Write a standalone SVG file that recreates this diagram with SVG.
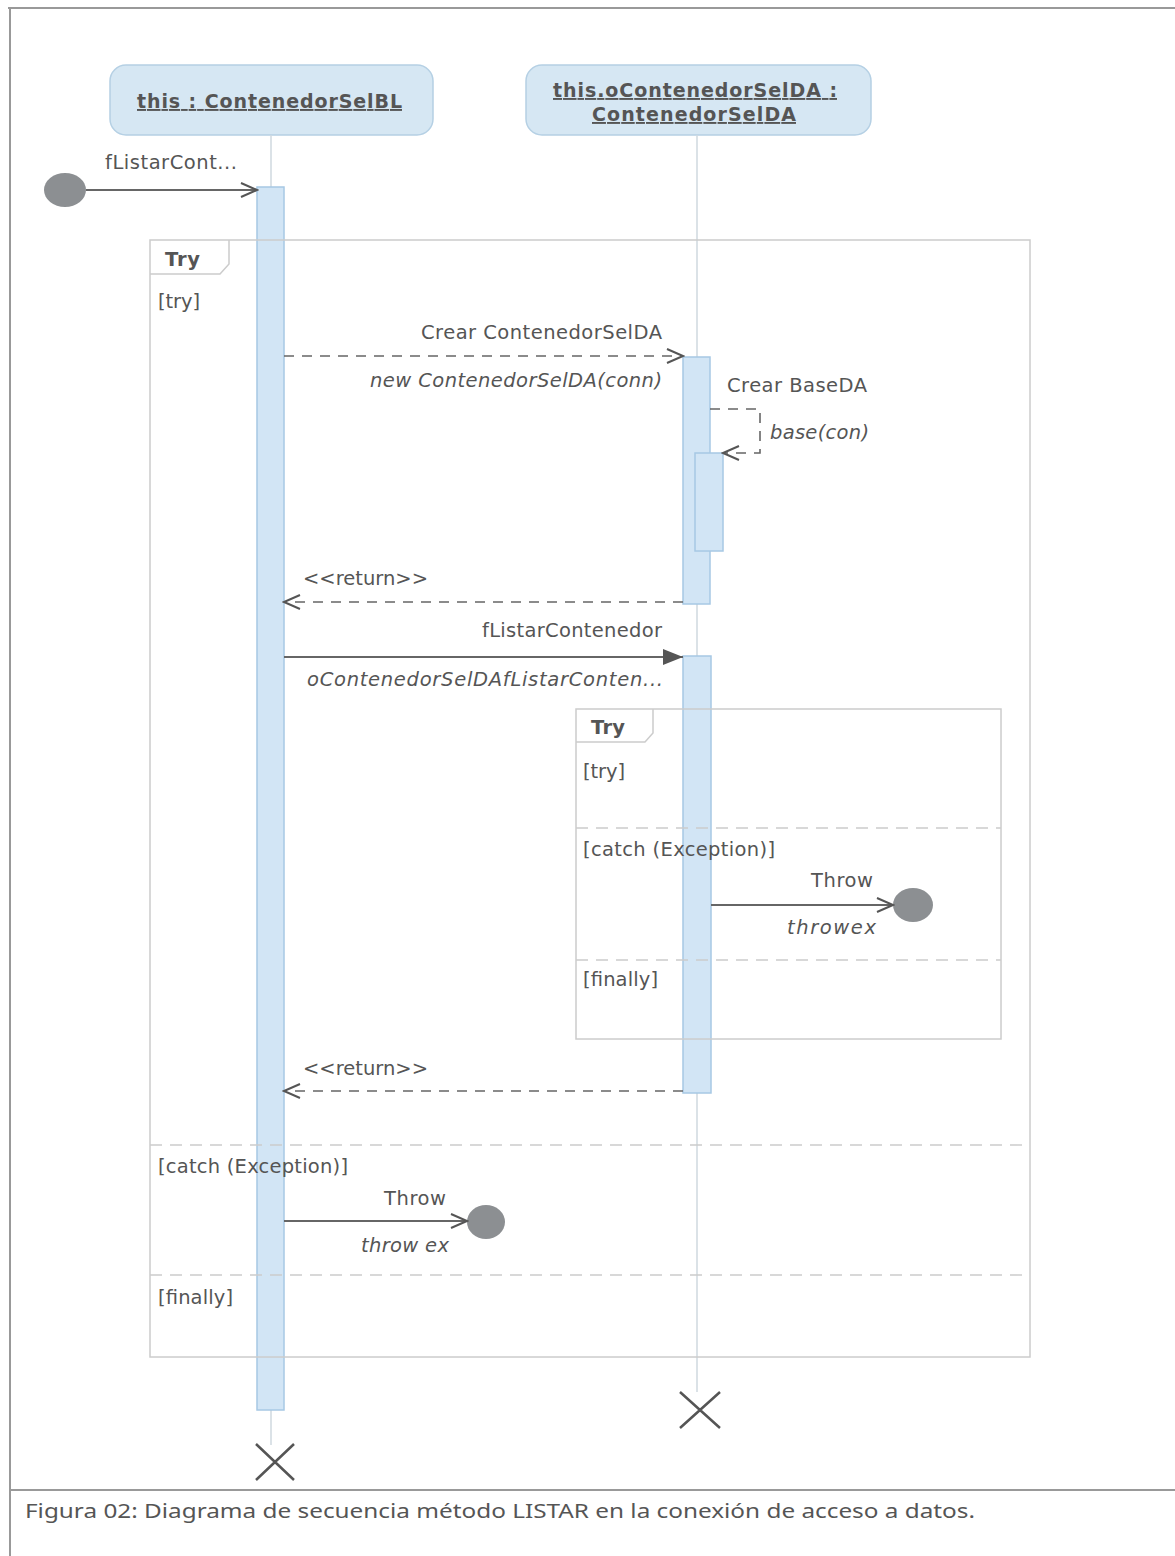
<svg xmlns="http://www.w3.org/2000/svg" width="1175" height="1556" viewBox="0 0 1175 1556">
<defs>
<style>
.t{font-family:"DejaVu Sans","Liberation Sans",sans-serif;font-size:19.5px;fill:#555}
.i{font-style:italic}
.h{font-family:"DejaVu Sans","Liberation Sans",sans-serif;font-size:19px;font-weight:bold;fill:#555;text-decoration:underline}
.b{font-family:"DejaVu Sans","Liberation Sans",sans-serif;font-size:19.5px;font-weight:bold;fill:#555}
.head{fill:#d6e7f3;stroke:#b5d0e4;stroke-width:1.5}
.act{fill:#d2e5f5;stroke:#a7c8e4;stroke-width:1.5}
.life{stroke:#cfd8df;stroke-width:1.5;fill:none}
.frame{fill:none;stroke:#cccccc;stroke-width:1.5}
.sep{stroke:#cccccc;stroke-width:1.5;stroke-dasharray:12 8;fill:none}
.msg{stroke:#666;stroke-width:2;fill:none}
.dash{stroke:#666;stroke-width:1.6;fill:none;stroke-dasharray:10 8}
.end{fill:#8c8f92}
.x{stroke:#555;stroke-width:2.5;fill:none}
</style>
<marker id="open" markerWidth="20" markerHeight="16" refX="18" refY="8" orient="auto" markerUnits="userSpaceOnUse">
<path d="M2,1 L18,8 L2,15" fill="none" stroke="#555" stroke-width="2"/>
</marker>
<marker id="filled" markerWidth="22" markerHeight="18" refX="20" refY="9" orient="auto" markerUnits="userSpaceOnUse">
<path d="M0,1 L20,9 L0,17 Z" fill="#555"/>
</marker>
</defs>
<rect width="1175" height="1556" fill="#ffffff"/>
<g id="page">
<line x1="8" y1="8" x2="1175" y2="8" stroke="#999" stroke-width="2"/>
<line x1="10" y1="8" x2="10" y2="1556" stroke="#999" stroke-width="2"/>
<line x1="10" y1="1490" x2="1175" y2="1490" stroke="#999" stroke-width="2"/>
<text x="25" y="1518" font-family="'Noto Sans','Open Sans',sans-serif" font-size="20" fill="#555" textLength="950" lengthAdjust="spacingAndGlyphs">Figura 02: Diagrama de secuencia método LISTAR en la conexión de acceso a datos.</text>
</g>
<g id="lifeline-bl">
<rect class="head" x="110" y="65" width="323" height="70" rx="16"/>
<text class="h" x="137" y="108" textLength="265">this : ContenedorSelBL</text>
<line class="life" x1="271" y1="135" x2="271" y2="1445"/>
<rect class="act" x="257" y="187" width="27" height="1223"/>
<path class="x" d="M256,1444 L294,1480 M294,1444 L256,1480"/>
</g>
<g id="lifeline-da">
<rect class="head" x="526" y="65" width="345" height="70" rx="16"/>
<text class="h" x="553" y="97" textLength="284">this.oContenedorSelDA :</text>
<text class="h" x="592" y="121" textLength="204">ContenedorSelDA</text>
<line class="life" x1="697" y1="135" x2="697" y2="1392"/>
<rect class="act" x="683" y="357" width="27" height="247"/>
<rect class="act" x="695" y="453" width="28" height="98"/>
<rect class="act" x="683" y="656" width="28" height="437"/>
<path class="x" d="M680,1392 L720,1428 M720,1392 L680,1428"/>
</g>
<g id="frame-outer-try">
<rect class="frame" x="150" y="240" width="880" height="1117"/>
<path class="frame" d="M150,274 L220,274 L229,264 L229,240"/>
<text class="b" x="165" y="266" textLength="35">Try</text>
<text class="t" x="158" y="308" textLength="42">[try]</text>
<line class="sep" x1="150" y1="1145" x2="1030" y2="1145"/>
<text class="t" x="158" y="1173" textLength="190">[catch (Exception)]</text>
<line class="sep" x1="150" y1="1275" x2="1030" y2="1275"/>
<text class="t" x="158" y="1304" textLength="75">[finally]</text>
</g>
<g id="frame-inner-try">
<rect class="frame" x="576" y="709" width="425" height="330"/>
<path class="frame" d="M576,742 L645,742 L653,733 L653,709"/>
<text class="b" x="591" y="734" textLength="34">Try</text>
<text class="t" x="583" y="778" textLength="42">[try]</text>
<line class="sep" x1="576" y1="828" x2="1001" y2="828"/>
<text class="t" x="583" y="856" textLength="192">[catch (Exception)]</text>
<line class="sep" x1="576" y1="960" x2="1001" y2="960"/>
<text class="t" x="583" y="986" textLength="75">[finally]</text>
</g>
<g id="start">
<ellipse class="end" cx="65" cy="190" rx="21" ry="17"/>
</g>
<g id="throw-end-inner">
<ellipse class="end" cx="913" cy="905" rx="20" ry="17"/>
</g>
<g id="throw-end-outer">
<ellipse class="end" cx="486" cy="1222" rx="19" ry="17"/>
</g>
<g id="connectors">
<line class="msg" x1="86" y1="190" x2="257" y2="190" marker-end="url(#open)"/>
<text class="t" x="105" y="169" textLength="132">fListarCont...</text>

<line class="dash" x1="284" y1="356" x2="683" y2="356" marker-end="url(#open)"/>
<text class="t" x="421" y="339" textLength="241">Crear ContenedorSelDA</text>
<text class="t i" x="370" y="387" textLength="292">new ContenedorSelDA(conn)</text>

<path class="dash" d="M710,409 L760,409 L760,453 L723,453" marker-end="url(#open)"/>
<text class="t" x="727" y="392" textLength="140">Crear BaseDA</text>
<text class="t i" x="770" y="439" textLength="99">base(con)</text>

<line class="dash" x1="683" y1="602" x2="284" y2="602" marker-end="url(#open)"/>
<text class="t" x="303" y="585" textLength="125">&lt;&lt;return&gt;&gt;</text>

<line class="msg" x1="284" y1="657" x2="683" y2="657" marker-end="url(#filled)"/>
<text class="t" x="482" y="637" textLength="180">fListarContenedor</text>
<text class="t i" x="307" y="686" textLength="356">oContenedorSelDAfListarConten...</text>

<line class="msg" x1="711" y1="905" x2="893" y2="905" marker-end="url(#open)"/>
<text class="t" x="811" y="887" textLength="62">Throw</text>
<text class="t i" x="787" y="934" textLength="89">throwex</text>

<line class="dash" x1="683" y1="1091" x2="284" y2="1091" marker-end="url(#open)"/>
<text class="t" x="303" y="1075" textLength="125">&lt;&lt;return&gt;&gt;</text>

<line class="msg" x1="284" y1="1221" x2="467" y2="1221" marker-end="url(#open)"/>
<text class="t" x="384" y="1205" textLength="62">Throw</text>
<text class="t i" x="361" y="1252" textLength="88">throw ex</text>
</g>
</svg>
